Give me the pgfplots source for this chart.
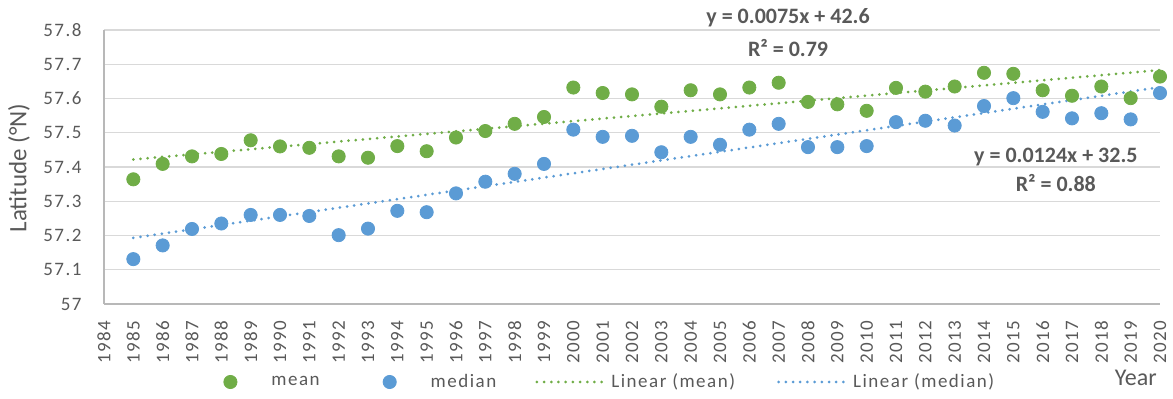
\documentclass[border=0pt]{standalone}
\usepackage{fontspec}
\setmainfont{Carlito}
\newfontfamily\tickfont{Carlito}[LetterSpace=8]
\usepackage{pgfplots}
\pgfplotsset{compat=1.18}
\definecolor{cgreen}{HTML}{70AD47}
\definecolor{cblue}{HTML}{5B9BD5}
\definecolor{cgrid}{HTML}{D9D9D9}
\definecolor{ctext}{HTML}{595959}
\tikzset{trend/.style={line width=1.5pt, line cap=round, dash pattern=on 0pt off 3.6pt}}
\begin{document}
\begin{tikzpicture}
\path[use as bounding box] (-52pt,-47.5pt) rectangle (534.5pt,152pt);
\begin{axis}[
  at={(0pt,0pt)}, anchor=south west,
  scale only axis, width=528pt, height=137pt,
  xmin=1984, xmax=2020, ymin=57, ymax=57.8,
  xtick={1984,1985,...,2020},
  ytick={57,57.1,...,57.8},
  ymajorgrids, grid style={cgrid, line width=0.7pt},
  axis x line*=bottom, axis y line*=left,
  axis line style={draw=cgrid!85!black, line width=0.7pt},
  major tick length=0pt,
  tick label style={font=\tickfont\fontsize{9.5}{10}\selectfont, text=ctext},
  /pgf/number format/assume math mode=true,
  xticklabel style={yshift=-8pt, rotate=90, anchor=east, inner sep=0pt, /pgf/number format/1000 sep={}},
  yticklabel style={inner sep=3pt, /pgf/number format/fixed, /pgf/number format/precision=1},
  yticklabel shift=8pt,
  ylabel={Latitude (°N)},
  ylabel style={at={(axis description cs:-0.0805,0.496)}, anchor=center, font=\fontsize{12.5}{14}\selectfont, text=ctext},
  xlabel={Year},
  xlabel style={at={(axis description cs:0.977,-0.27)}, anchor=center, font=\fontsize{12}{14}\selectfont, text=ctext},
  clip=false,
  legend columns=4,
  legend style={at={(axis description cs:0.1004,-0.2847)}, anchor=west, draw=none, fill=none, inner sep=0pt,
    font=\tickfont\fontsize{9.5}{10}\selectfont, text=ctext,
    nodes={inner sep=3pt},
    /tikz/column 1/.style={column sep=0pt},
    /tikz/column 2/.style={column sep=22pt},
    /tikz/column 3/.style={column sep=0pt},
    /tikz/column 4/.style={column sep=16.5pt},
    /tikz/column 5/.style={column sep=0pt},
    /tikz/column 6/.style={column sep=18pt},
    /tikz/column 7/.style={column sep=0pt}},
  legend cell align=left,
]
\addplot[only marks, mark=*, mark size=3.3pt, color=cgreen,
  legend image code/.code={\fill[cgreen] (10pt,0pt) circle (3.3pt); \path[draw=none] (0pt,0pt) -- (27.5pt,0pt);}]
coordinates {
(1985,57.364)(1986,57.409)(1987,57.431)(1988,57.438)(1989,57.478)(1990,57.460)
(1991,57.456)(1992,57.431)(1993,57.427)(1994,57.461)(1995,57.446)(1996,57.486)
(1997,57.505)(1998,57.526)(1999,57.546)(2000,57.632)(2001,57.616)(2002,57.612)
(2003,57.576)(2004,57.624)(2005,57.612)(2006,57.632)(2007,57.646)(2008,57.590)
(2009,57.583)(2010,57.564)(2011,57.631)(2012,57.620)(2013,57.635)(2014,57.675)
(2015,57.672)(2016,57.624)(2017,57.608)(2018,57.635)(2019,57.601)(2020,57.664)
};
\addlegendentry{mean}
\addplot[only marks, mark=*, mark size=3.3pt, color=cblue,
  legend image code/.code={\fill[cblue] (10pt,0pt) circle (3.3pt); \path[draw=none] (0pt,0pt) -- (27.5pt,0pt);}]
coordinates {
(1985,57.131)(1986,57.171)(1987,57.219)(1988,57.235)(1989,57.260)(1990,57.260)
(1991,57.257)(1992,57.201)(1993,57.220)(1994,57.272)(1995,57.268)(1996,57.323)
(1997,57.357)(1998,57.380)(1999,57.409)(2000,57.509)(2001,57.488)(2002,57.491)
(2003,57.443)(2004,57.488)(2005,57.465)(2006,57.509)(2007,57.526)(2008,57.458)
(2009,57.458)(2010,57.461)(2011,57.531)(2012,57.535)(2013,57.521)(2014,57.578)
(2015,57.601)(2016,57.561)(2017,57.542)(2018,57.557)(2019,57.539)(2020,57.616)
};
\addlegendentry{median}
\addplot[no marks, color=cgreen, trend,
  legend image code/.code={\draw[cgreen, trend] (1pt,0pt) -- (34.5pt,0pt);}]
coordinates {(1985,57.422)(2020,57.683)};
\addlegendentry{Linear (mean)}
\addplot[no marks, color=cblue, trend,
  legend image code/.code={\draw[cblue, trend] (1pt,0pt) -- (34.5pt,0pt);}]
coordinates {(1985,57.193)(2020,57.633)};
\addlegendentry{Linear (median)}
\node[font=\bfseries\fontsize{11}{13}\selectfont, text=ctext] at (axis cs:2007.32,57.835) {y = 0.0075x + 42.6};
\node[font=\bfseries\fontsize{11}{13}\selectfont, text=ctext] at (axis cs:2007.32,57.747) {R² = 0.79};
\node[font=\bfseries\fontsize{11}{13}\selectfont, text=ctext] at (axis cs:2016.45,57.429) {y = 0.0124x + 32.5};
\node[font=\bfseries\fontsize{11}{13}\selectfont, text=ctext] at (axis cs:2016.45,57.353) {R² = 0.88};
\end{axis}
\end{tikzpicture}
\end{document}
